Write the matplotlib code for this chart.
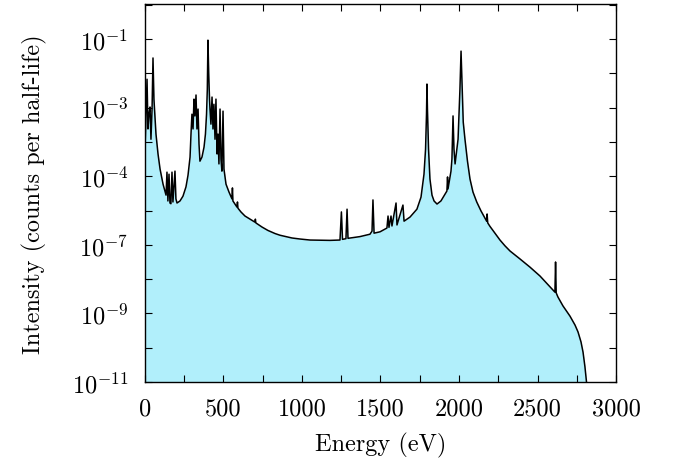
import numpy as np
import matplotlib
matplotlib.use("Agg")
import matplotlib.pyplot as plt
from matplotlib.ticker import FixedLocator, FixedFormatter

plt.rcParams['font.family'] = 'serif'
plt.rcParams['font.serif'] = ['cmr10']
plt.rcParams['mathtext.fontset'] = 'cm'
plt.rcParams['axes.unicode_minus'] = False

# spectrum: energy (eV) and log10 of intensity
energy = [
    0, 6, 13, 19, 25, 32, 38, 45, 51, 57, 64, 70, 83, 96, 115, 134, 140, 146, 153,
    159, 165, 172, 178, 191, 197, 204, 223, 242, 261, 274, 287, 293, 299, 306, 312,
    318, 325, 331, 338, 344, 350, 363, 376, 385, 392, 397, 401, 406, 411, 414, 420,
    427, 433, 439, 446, 452, 459, 465, 471, 478, 484, 490, 497, 503, 516, 535, 554,
    557, 560, 586, 589, 592, 611, 637, 669, 701, 703, 706, 745, 783, 828, 860, 936,
    987, 1051, 1178, 1242, 1251, 1258, 1280, 1287, 1293, 1369, 1433, 1446, 1452,
    1459, 1497, 1541, 1548, 1554, 1567, 1573, 1599, 1605, 1643, 1650, 1688, 1732,
    1758, 1777, 1787, 1793, 1796, 1799, 1806, 1815, 1828, 1841, 1860, 1885, 1911,
    1923, 1927, 1930, 1949, 1955, 1962, 1968, 1975, 1994, 2006, 2013, 2017, 2027,
    2038, 2054, 2070, 2089, 2113, 2140, 2176, 2179, 2183, 2197, 2229, 2261, 2293,
    2325, 2388, 2452, 2516, 2599, 2611, 2615, 2619, 2630, 2662, 2707, 2739, 2758,
    2777, 2790, 2802, 2813, 2816,
]
log_intensity = [
    -4.21, -3.33, -2.17, -3.62, -3.19, -2.98, -3.92, -3.04, -1.55, -2.75, -3.33,
    -3.77, -4.35, -4.79, -5.23, -5.55, -4.88, -5.72, -4.94, -5.78, -5.80, -4.88,
    -5.75, -4.85, -5.66, -5.78, -5.72, -5.58, -5.31, -4.97, -4.44, -3.77, -3.19,
    -3.62, -2.75, -3.24, -2.63, -3.62, -3.04, -4.06, -4.56, -4.44, -4.15, -3.77,
    -3.19, -2.46, -1.03, -2.02, -2.75, -3.04, -3.48, -2.69, -3.62, -2.90, -3.92,
    -2.75, -4.35, -3.77, -4.64, -3.04, -4.50, -4.85, -3.10, -4.79, -5.23, -5.46,
    -5.66, -5.34, -5.72, -5.90, -5.75, -5.93, -6.04, -6.16, -6.25, -6.34, -6.25,
    -6.36, -6.48, -6.58, -6.67, -6.72, -6.80, -6.83, -6.86, -6.87, -6.86, -6.04,
    -6.84, -6.82, -5.96, -6.81, -6.76, -6.69, -6.60, -5.69, -6.66, -6.62, -6.51,
    -6.16, -6.49, -6.16, -6.45, -5.78, -6.42, -5.84, -6.31, -6.19, -5.96, -5.61,
    -4.94, -4.21, -3.19, -2.31, -3.04, -4.21, -5.08, -5.55, -5.72, -5.81, -5.72,
    -5.52, -5.43, -5.02, -5.37, -4.85, -4.50, -3.24, -4.21, -4.64, -3.92, -2.46,
    -1.35, -1.96, -3.42, -3.92, -4.56, -5.08, -5.46, -5.75, -6.01, -6.31, -6.10,
    -6.36, -6.46, -6.66, -6.86, -7.03, -7.18, -7.41, -7.65, -7.91, -8.32, -8.38,
    -7.50, -8.40, -8.52, -8.78, -9.08, -9.34, -9.54, -9.83, -10.13, -10.55,
    -11.04, -12.0,
]

y_ticks = [10.0 ** -k for k in range(11, -1, -1)]
y_labels = ['$10^{-11}$', '', '$10^{-9}$', '', '$10^{-7}$', '', '$10^{-4}$', '',
            '$10^{-3}$', '', '$10^{-1}$', '']
x_ticks = list(range(0, 3001, 250))
x_labels = [str(v) if v % 500 == 0 else '' for v in x_ticks]

intensity = 10.0 ** np.array(log_intensity)

fig = plt.figure(figsize=(6.75, 4.64), dpi=100)
ax = fig.add_axes([0.2148, 0.1746, 0.6978, 0.8144])

ax.fill_between(energy, 1e-12, intensity, color='#b1effb', lw=0)
ax.plot(energy, intensity, color='black', lw=1.1)

ax.set_yscale('log')
ax.set_xlim(0, 3000)
ax.set_ylim(1e-11, 1.05)

ax.set_xticks(x_ticks)
ax.set_xticklabels(x_labels)
ax.yaxis.set_major_locator(FixedLocator(y_ticks))
ax.yaxis.set_major_formatter(FixedFormatter(y_labels))
ax.yaxis.set_minor_locator(FixedLocator([]))

ax.tick_params(which='both', direction='in', top=True, right=True,
               length=5, width=0.8, labelsize=17.5)
ax.tick_params(axis='y', pad=12)
ax.tick_params(axis='x', pad=11)
for s in ax.spines.values():
    s.set_linewidth(1.0)

ax.set_xlabel('Energy (eV)', fontsize=17.5, labelpad=9)
ax.set_ylabel('Intensity (counts per half-life)', fontsize=17.5, labelpad=18)

plt.savefig('out.png', dpi=100)
